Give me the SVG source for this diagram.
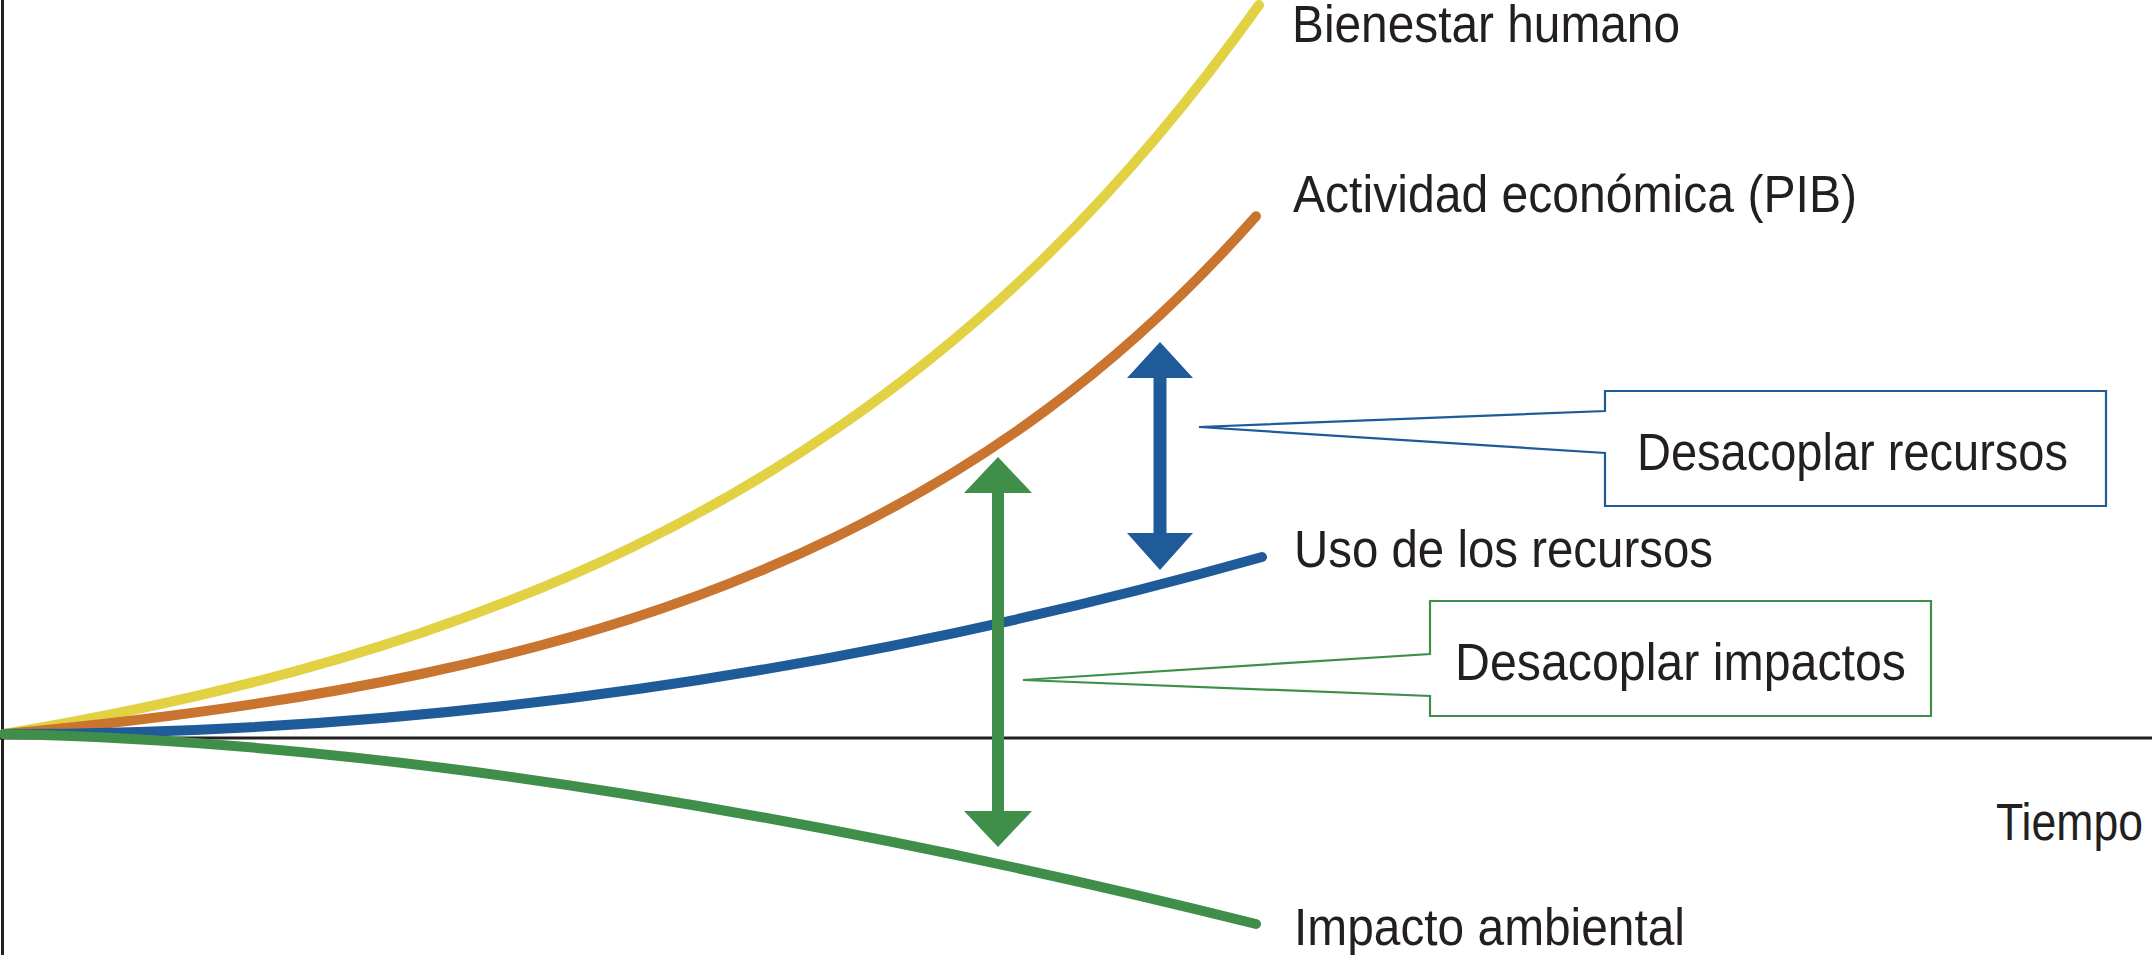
<svg xmlns="http://www.w3.org/2000/svg" width="2152" height="955" viewBox="0 0 2152 955">
<style>
  .lbl { font-family: "Liberation Sans Narrow", "Arial Narrow", "Liberation Sans", Arial, sans-serif; font-size: 51px; fill: #231F20; }
  .curve { fill: none; stroke-width: 10; stroke-linecap: round; stroke-linejoin: round; }
  .axis { stroke: #231F20; stroke-width: 3; fill: none; }
  .callout { fill: #FFFFFF; stroke-width: 2.2; stroke-linejoin: miter; }
</style>
<rect width="2152" height="955" fill="#FFFFFF"/>
<g id="axes">
  <line class="axis" x1="2.5" y1="0" x2="2.5" y2="955"/>
  <line class="axis" x1="0" y1="738" x2="2152" y2="738"/>
</g>
<g id="connectors">
  <path id="curve-bienestar" class="curve" stroke="#E2D243" d="M4,734 C142.7,710.9 281.3,680.1 420,633.2 C560,585.9 700,522.7 840,426.1 C979.7,329.7 1119.3,201 1259,5"/>
  <path id="curve-pib" class="curve" stroke="#C97530" d="M4,734 C143,721.2 282,703.5 421,674 C560,644.5 699,603.6 838,535.7 C977.3,467.6 1116.7,373.4 1256,216.3"/>
  <path id="curve-recursos" class="curve" stroke="#1F5A99" d="M4,734 Q633,734 1262,557"/>
  <path id="curve-impacto" class="curve" stroke="#3F8F4A" d="M4,734 C212.7,738.2 421.3,761.3 630,794.7 C838.7,828.1 1047.3,871.8 1256,924"/>
  <polygon id="arrow-recursos" fill="#1F5A99" points="1160,342 1193,378 1166.5,378 1166.5,533 1193,533 1160,570 1127,533 1153.5,533 1153.5,378 1127,378"/>
  <polygon id="arrow-impactos" fill="#3F8F4A" points="998,457 1032,493 1004,493 1004,811 1032,811 998,847 964,811 992,811 992,493 964,493"/>
</g>
<g id="node-bienestar">
  <text class="lbl" x="1292" y="42" textLength="388" lengthAdjust="spacingAndGlyphs">Bienestar humano</text>
</g>
<g id="node-pib">
  <text class="lbl" x="1293" y="212" textLength="564" lengthAdjust="spacingAndGlyphs">Actividad económica (PIB)</text>
</g>
<g id="node-recursos">
  <text class="lbl" x="1294" y="567" textLength="419" lengthAdjust="spacingAndGlyphs">Uso de los recursos</text>
</g>
<g id="node-impacto">
  <text class="lbl" x="1294" y="945" textLength="391" lengthAdjust="spacingAndGlyphs">Impacto ambiental</text>
</g>
<g id="node-tiempo">
  <text class="lbl" x="1996" y="840" textLength="147" lengthAdjust="spacingAndGlyphs">Tiempo</text>
</g>
<g id="node-desacoplar-recursos">
  <path class="callout" stroke="#1F5A99" d="M1605,391 H2106 V506 H1605 V453 L1199,427 L1605,411 Z"/>
  <text class="lbl" x="1637" y="470" textLength="431" lengthAdjust="spacingAndGlyphs">Desacoplar recursos</text>
</g>
<g id="node-desacoplar-impactos">
  <path class="callout" stroke="#3F8F4A" d="M1430,601 H1931 V716 H1430 V696 L1023,680 L1430,654 Z"/>
  <text class="lbl" x="1455" y="680" textLength="451" lengthAdjust="spacingAndGlyphs">Desacoplar impactos</text>
</g>
</svg>
